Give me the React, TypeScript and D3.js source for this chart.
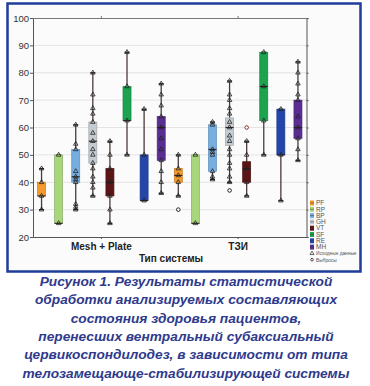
import { useEffect, useRef } from 'react';
import * as d3 from 'd3';

const groups = ['Mesh + Plate', 'ТЗИ'];
const scaleNames = ['PF', 'RP', 'BP', 'GH', 'VT', 'SF', 'RE', 'MH'];
const scaleColors = ['#f39a2b', '#a9d67c', '#76aee0', '#c5ccd1', '#5b1515', '#1ba34f', '#2446a8', '#5a2d93'];

// [min, q1, median, q3, max]
const meshPlateBoxes = [
  [30, 35, 35, 40, 45],
  [25, 25, 25, 50, 50],
  [30, 40, 42, 52, 61],
  [35, 47, 55, 62, 80],
  [25, 35, 40, 45, 55],
  [50, 62.5, 62.5, 75, 87.5],
  [33.3, 33.3, 33.3, 50, 66.7],
  [36, 48, 60, 64, 76],
];
const tziBoxes = [
  [35, 40, 42.5, 45, 50],
  [25, 25, 25, 50, 50],
  [41, 44, 52, 61, 62],
  [40, 53.5, 60, 63.5, 77],
  [35, 40, 45, 47.5, 55],
  [50, 62.5, 75, 87.5, 87.5],
  [33.3, 50, 50, 66.7, 66.7],
  [48, 56, 60, 70, 84],
];

const meshPlatePoints = [
  [30, 35, 40, 45],
  [25, 50],
  [30, 31, 32, 40, 41, 42, 44, 52, 54, 61],
  [35, 38, 40, 42, 45, 47, 50, 52, 55, 58, 62, 65, 67, 72, 80],
  [25, 30, 35, 40, 45, 50, 55],
  [50, 62.5, 75, 87.5],
  [33.3, 50, 66.7],
  [36, 40, 44, 48, 52, 56, 60, 64, 68, 72, 76],
];
const tziPoints = [
  [35, 40, 42.5, 45, 50],
  [25, 50],
  [41, 42, 44, 50, 51, 52, 61, 62],
  [40, 42, 45, 47, 50, 52, 55, 57, 60, 62, 65, 67, 70, 72, 77],
  [35, 40, 45, 50, 55],
  [50, 62.5, 75, 87.5],
  [33.3, 50, 66.7],
  [48, 52, 56, 60, 64, 70, 72, 76, 80, 84],
];
const meshPlateOutliers = [[], [], [], [], [], [], [], []];
const tziOutliers = [[30], [], [], [37], [60], [], [], []];

const yTicks = [20, 30, 40, 50, 60, 70, 80, 90, 100];
const legendExtra = ['Исходные данные', 'Выбросы'];
const captionLines = [
  'Рисунок 1. Результаты статистической',
  'обработки анализируемых составляющих',
  'состояния здоровья пациентов,',
  'перенесших вентральный субаксиальный',
  'цервикоспондилодез, в зависимости от типа',
  'телозамещающе-стабилизирующей системы',
];

export default function App() {
  const svgRef = useRef<SVGSVGElement>(null);

  useEffect(() => {
    const width = 370;
    const height = 386;
    const left = 33, right = 306.5, top = 18, bottom = 237;

    const svg = d3.select(svgRef.current).attr('width', width).attr('height', height);
    svg.selectAll('*').remove();

    svg.append('rect').attr('width', width).attr('height', height).attr('fill', '#ffffff');
    svg.append('rect')
      .attr('x', 7.5).attr('y', 3.5).attr('width', 353).attr('height', 268)
      .attr('fill', '#fbfbfb').attr('stroke', '#1f3c99').attr('stroke-width', 2.5);

    const y = d3.scaleLinear().domain([20, 100]).range([bottom, top]);
    const xGroup = d3.scaleBand().domain(groups).range([left, right]);
    const xInner = d3.scaleBand().domain(scaleNames).range([0, xGroup.bandwidth()]);

    // grid
    svg.append('g').selectAll('line')
      .data(yTicks.slice(1, -1))
      .join('line')
      .attr('x1', left).attr('x2', right)
      .attr('y1', d => y(d)).attr('y2', d => y(d))
      .attr('stroke', '#dedede').attr('stroke-width', 0.8);

    const yAxis = svg.append('g')
      .attr('transform', `translate(${left},0)`)
      .call(d3.axisLeft(y).tickValues(yTicks).tickSize(3).tickFormat(d3.format('d')));
    yAxis.select('.domain').attr('stroke', '#555');
    yAxis.selectAll('.tick line').attr('stroke', '#555');
    yAxis.selectAll('.tick text')
      .attr('font-family', 'Liberation Sans, Arial, sans-serif').attr('font-size', 9.5).attr('fill', '#333').attr('x', -4);

    const yAxisR = svg.append('g')
      .attr('transform', `translate(${right},0)`)
      .call(d3.axisRight(y).tickValues(yTicks).tickSize(2).tickFormat(() => ''));
    yAxisR.select('.domain').attr('stroke', '#555');
    yAxisR.selectAll('.tick line').attr('stroke', '#555');

    const xAxis = svg.append('g')
      .attr('transform', `translate(0,${bottom})`)
      .call(d3.axisBottom(xGroup).tickSize(2).tickSizeOuter(0));
    xAxis.select('.domain').attr('stroke', '#555');
    xAxis.selectAll('.tick line').attr('stroke', '#555');
    xAxis.selectAll('.tick text')
      .attr('font-family', 'Liberation Sans, Arial, sans-serif').attr('font-size', 10)
      .attr('font-weight', 'bold').attr('fill', '#222').attr('y', 6);

    const xAxisTop = svg.append('g')
      .attr('transform', `translate(0,${top})`)
      .call(d3.axisTop(xGroup).tickSize(2).tickSizeOuter(0).tickFormat(() => ''));
    xAxisTop.select('.domain').attr('stroke', '#777');
    xAxisTop.selectAll('.tick line').attr('stroke', '#777');

    svg.append('text')
      .attr('x', 171).attr('y', 262)
      .attr('text-anchor', 'middle')
      .attr('font-family', 'Liberation Sans, Arial, sans-serif').attr('font-size', 10)
      .attr('font-weight', 'bold').attr('fill', '#222')
      .text('Тип системы');

    const sets = [
      { group: groups[0], boxes: meshPlateBoxes, points: meshPlatePoints, outliers: meshPlateOutliers },
      { group: groups[1], boxes: tziBoxes, points: tziPoints, outliers: tziOutliers },
    ];
    const bw = 8;
    const tri = d3.symbol().type(d3.symbolTriangle).size(9);

    sets.forEach(set => {
      const g = svg.append('g').attr('transform', `translate(${xGroup(set.group)},0)`);
      scaleNames.forEach((name, i) => {
        const cx = (xInner(name) as number) + xInner.bandwidth() / 2;
        const [lo, q1, med, q3, hi] = set.boxes[i];
        const color = scaleColors[i];
        g.append('line')
          .attr('x1', cx).attr('x2', cx).attr('y1', y(hi)).attr('y2', y(lo))
          .attr('stroke', '#4a3b3b').attr('stroke-width', 1.3);
        [lo, hi].forEach(v => {
          g.append('line')
            .attr('x1', cx - 2.5).attr('x2', cx + 2.5).attr('y1', y(v)).attr('y2', y(v))
            .attr('stroke', '#222').attr('stroke-width', 1.3);
        });
        g.append('rect')
          .attr('x', cx - bw / 2).attr('width', bw)
          .attr('y', y(q3)).attr('height', Math.max(y(q1) - y(q3), 0.5))
          .attr('fill', color)
          .attr('stroke', d3.color(color)!.darker(0.6).toString()).attr('stroke-width', 0.7);
        g.append('line')
          .attr('x1', cx - bw / 2).attr('x2', cx + bw / 2).attr('y1', y(med)).attr('y2', y(med))
          .attr('stroke', '#2a1f1f').attr('stroke-width', 1.1);
        g.selectAll(`.pt-${name}`)
          .data(set.points[i])
          .join('path')
          .attr('d', tri)
          .attr('transform', d => `translate(${cx},${y(d)})`)
          .attr('fill', 'none').attr('stroke', '#222').attr('stroke-width', 0.8);
        g.selectAll(`.out-${name}`)
          .data(set.outliers[i])
          .join('circle')
          .attr('cx', cx).attr('cy', d => y(d)).attr('r', 1.8)
          .attr('fill', '#fff').attr('stroke', name === 'VT' ? '#8b3030' : '#222').attr('stroke-width', 1);
      });
    });

    // legend
    const lg = svg.append('g').attr('font-family', 'Liberation Sans, Arial, sans-serif');
    const rowY = (i: number) => 203 + i * 6.3;
    scaleNames.forEach((name, i) => {
      lg.append('rect')
        .attr('x', 310).attr('y', rowY(i) - 2.5).attr('width', 4).attr('height', 5)
        .attr('fill', scaleColors[i]);
      lg.append('line')
        .attr('x1', 310).attr('x2', 314).attr('y1', rowY(i)).attr('y2', rowY(i))
        .attr('stroke', '#333').attr('stroke-width', 0.5);
      lg.append('text')
        .attr('x', 316).attr('y', rowY(i) + 2.2)
        .attr('font-size', 6.5).attr('fill', '#555').text(name);
    });
    lg.append('path').attr('d', d3.symbol().type(d3.symbolTriangle).size(7)())
      .attr('transform', `translate(312,${rowY(8)})`).attr('fill', 'none').attr('stroke', '#222').attr('stroke-width', 0.7);
    lg.append('circle').attr('cx', 312).attr('cy', rowY(9)).attr('r', 1.3)
      .attr('fill', '#fff').attr('stroke', '#222').attr('stroke-width', 0.8);
    legendExtra.forEach((t, k) => {
      lg.append('text')
        .attr('x', 316).attr('y', rowY(8 + k) + 2)
        .attr('font-size', 4.8).attr('fill', '#555').text(t);
    });

    // caption
    svg.append('g').selectAll('text')
      .data(captionLines)
      .join('text')
      .attr('x', 186).attr('y', (d, i) => 286 + i * 18.3)
      .attr('text-anchor', 'middle')
      .attr('font-family', 'Liberation Sans, Arial, sans-serif').attr('font-size', 13.7)
      .attr('font-weight', 'bold').attr('font-style', 'italic').attr('fill', '#2e3a8c')
      .text(d => d);
  }, []);

  return <svg ref={svgRef} style={{ position: 'absolute', left: 0, top: 0, display: 'block' }}></svg>;
}
